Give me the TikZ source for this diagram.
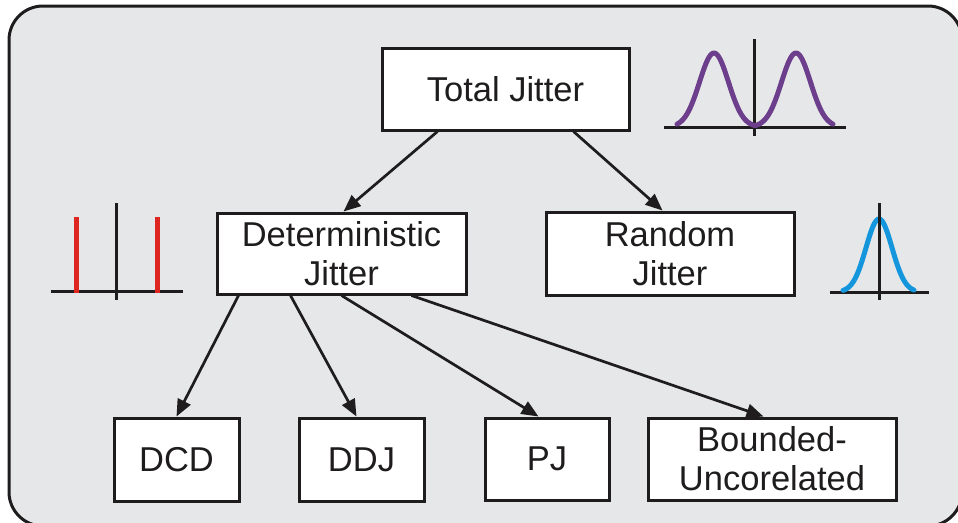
\documentclass[tikz,border=0pt]{standalone}
\usepackage{fontspec}
\setmainfont{Liberation Sans}
\usetikzlibrary{arrows.meta,calc}

\definecolor{panelgray}{RGB}{230,231,233}
\definecolor{edgeblack}{RGB}{30,28,28}
\definecolor{tjpurple}{RGB}{108,62,140}
\definecolor{djred}{RGB}{222,38,32}
\definecolor{rjblue}{RGB}{20,150,220}

\tikzset{
  jbox/.style={draw=edgeblack, line width=3pt, fill=white, inner sep=0pt,
    align=center, font=\fontsize{34.5}{39}\selectfont, text=edgeblack},
  link/.style={draw=edgeblack, line width=2.7pt,
    -{Triangle[length=17pt,width=14pt]}},
  axisline/.style={draw=edgeblack, line width=3pt},
  wave/.style={line width=5pt, line cap=round, line join=round}
}

\begin{document}
\begin{tikzpicture}[x=1pt,y=-1pt]
  \useasboundingbox (0,0) rectangle (958,522);

  % panel behind the tree
  \draw[draw=edgeblack, line width=3pt, fill=panelgray, rounded corners=34pt]
    (9,6) rectangle (962,526);

  % boxes of the jitter tree
  \node[jbox, minimum width=247pt, minimum height=82pt] (total) at (505.5,89) {Total Jitter};
  \node[jbox, minimum width=249pt, minimum height=81pt] (det) at (341.5,253.5) {Deterministic\\Jitter};
  \node[jbox, minimum width=248pt, minimum height=83pt] (rand) at (670,253.5) {Random\\Jitter};
  \node[jbox, minimum width=125pt, minimum height=83pt] (dcd) at (176.5,459.5) {DCD};
  \node[jbox, minimum width=125pt, minimum height=83pt] (ddj) at (361.5,459.5) {DDJ};
  \node[jbox, minimum width=124pt, minimum height=82pt] (pj) at (547,459) {PJ};
  \node[jbox, minimum width=248pt, minimum height=82pt] (bu) at (772,459) {Bounded-\\Uncorelated};

  % connectors
  \draw[link] ($(total.south west)+(57,0)$) -- ($(det.north west)+(128,0)$);
  \draw[link] ($(total.south west)+(193,0)$) -- ($(rand.north west)+(118,0)$);
  \draw[link] ($(det.south west)+(23,0)$) -- ($(dcd.north west)+(64,0)$);
  \draw[link] ($(det.south west)+(75,0)$) -- ($(ddj.north west)+(59,0)$);
  \draw[link] ($(det.south west)+(126,0)$) -- ($(pj.north west)+(55,0)$);
  \draw[link] ($(det.south west)+(196,0)$) -- ($(bu.north west)+(117,0)$);

  % total jitter: two gaussians
  \draw[axisline] (664,127) -- (846,127);
  \draw[axisline] (754,39) -- (754,136);
  \draw[wave, tjpurple]
    plot[domain=677:755, samples=60, smooth] (\x, {127-74*exp(-0.5*((\x-714)/14.5)^2)})
    -- plot[domain=755:833, samples=60, smooth] (\x, {127-74*exp(-0.5*((\x-796)/14.5)^2)});

  % deterministic jitter: two spectral lines
  \draw[axisline] (51,291) -- (183,291);
  \draw[axisline] (116,203) -- (116,300);
  \draw[wave, djred, line cap=butt] (76,217) -- (76,293);
  \draw[wave, djred, line cap=butt] (157,217) -- (157,293);

  % random jitter: one gaussian
  \draw[axisline] (830,292) -- (929,292);
  \draw[wave, rjblue]
    plot[domain=843:914, samples=70, smooth] (\x, {292-73*exp(-0.5*((\x-879)/13)^2)});
  \draw[axisline] (879,203) -- (879,300);
\end{tikzpicture}
\end{document}
